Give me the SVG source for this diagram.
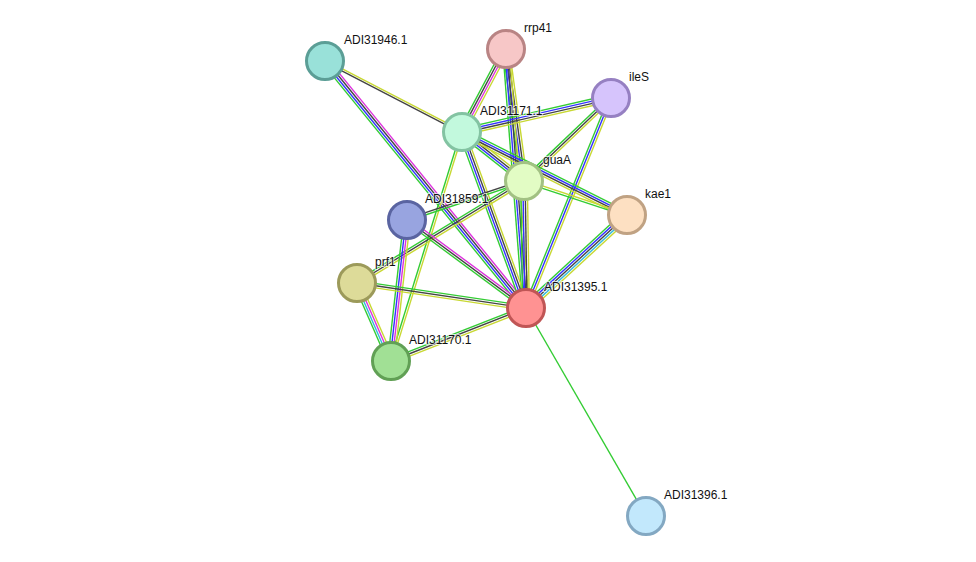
<svg xmlns="http://www.w3.org/2000/svg" width="976" height="562" viewBox="0 0 976 562">
<style>
line{stroke-width:1.4;fill:none}
.g{stroke:#33cc33}.b{stroke:#3333ff}.k{stroke:#444444}.y{stroke:#c8d832}.m{stroke:#dd33dd}.c{stroke:#33bbdd}
.n circle{stroke-width:3}
text{font-family:"Liberation Sans",Arial,sans-serif;font-size:12px;fill:#111;stroke:#fff;stroke-width:2px;stroke-opacity:0.7;paint-order:stroke}
</style>
<rect width="976" height="562" fill="#fff"/>
<g id="edges">
<g transform="translate(325 61) rotate(27.4)"><line x2="154.3" y1="1.1" y2="1.1" class="k"/><line x2="154.3" y1="-1.1" y2="-1.1" class="y"/></g>
<g transform="translate(325 61) rotate(50.86)"><line x2="318.4" y1="3.3" y2="3.3" class="g"/><line x2="318.4" y1="1.1" y2="1.1" class="b"/><line x2="318.4" y1="-1.1" y2="-1.1" class="k"/><line x2="318.4" y1="-3.3" y2="-3.3" class="m"/></g>
<g transform="translate(506 49) rotate(117.93)"><line x2="93.9" y1="3.3" y2="3.3" class="g"/><line x2="93.9" y1="1.1" y2="1.1" class="k"/><line x2="93.9" y1="-1.1" y2="-1.1" class="m"/><line x2="93.9" y1="-3.3" y2="-3.3" class="y"/></g>
<g transform="translate(506 49) rotate(82.24)"><line x2="133.2" y1="3.3" y2="3.3" class="g"/><line x2="133.2" y1="1.1" y2="1.1" class="b"/><line x2="133.2" y1="-1.1" y2="-1.1" class="k"/><line x2="133.2" y1="-3.3" y2="-3.3" class="y"/></g>
<g transform="translate(506 49) rotate(85.58)"><line x2="259.8" y1="3.3" y2="3.3" class="g"/><line x2="259.8" y1="1.1" y2="1.1" class="b"/><line x2="259.8" y1="-1.1" y2="-1.1" class="k"/><line x2="259.8" y1="-3.3" y2="-3.3" class="y"/></g>
<g transform="translate(611 98) rotate(167.15)"><line x2="152.8" y1="3.3" y2="3.3" class="g"/><line x2="152.8" y1="1.1" y2="1.1" class="b"/><line x2="152.8" y1="-1.1" y2="-1.1" class="k"/><line x2="152.8" y1="-3.3" y2="-3.3" class="y"/></g>
<g transform="translate(611 98) rotate(136.35)"><line x2="120.2" y1="2.2" y2="2.2" class="g"/><line x2="120.2" class="k"/><line x2="120.2" y1="-2.2" y2="-2.2" class="y"/></g>
<g transform="translate(611 98) rotate(112.04)"><line x2="226.5" y1="2.2" y2="2.2" class="g"/><line x2="226.5" class="b"/><line x2="226.5" y1="-2.2" y2="-2.2" class="y"/></g>
<g transform="translate(462 132) rotate(38.32)"><line x2="79" y1="3.3" y2="3.3" class="g"/><line x2="79" y1="1.1" y2="1.1" class="b"/><line x2="79" y1="-1.1" y2="-1.1" class="k"/><line x2="79" y1="-3.3" y2="-3.3" class="y"/></g>
<g transform="translate(462 132) rotate(26.70)"><line x2="184.7" y1="-3.3" y2="-3.3" class="g"/><line x2="184.7" y1="-1.1" y2="-1.1" class="b"/><line x2="184.7" y1="1.1" y2="1.1" class="k"/><line x2="184.7" y1="3.3" y2="3.3" class="y"/></g>
<g transform="translate(462 132) rotate(70.02)"><line x2="187.3" y1="3.3" y2="3.3" class="g"/><line x2="187.3" y1="1.1" y2="1.1" class="b"/><line x2="187.3" y1="-1.1" y2="-1.1" class="k"/><line x2="187.3" y1="-3.3" y2="-3.3" class="y"/></g>
<g transform="translate(462 132) rotate(107.23)"><line x2="239.8" y1="1.1" y2="1.1" class="g"/><line x2="239.8" y1="-1.1" y2="-1.1" class="y"/></g>
<g transform="translate(524 181) rotate(18.27)"><line x2="108.5" y1="1.1" y2="1.1" class="g"/><line x2="108.5" y1="-1.1" y2="-1.1" class="y"/></g>
<g transform="translate(524 181) rotate(89.1)"><line x2="127" y1="3.3" y2="3.3" class="g"/><line x2="127" y1="1.1" y2="1.1" class="b"/><line x2="127" y1="-1.1" y2="-1.1" class="k"/><line x2="127" y1="-3.3" y2="-3.3" class="y"/></g>
<g transform="translate(524 181) rotate(161.57)"><line x2="123.3" y1="1.1" y2="1.1" class="k"/><line x2="123.3" y1="-1.1" y2="-1.1" class="g"/></g>
<g transform="translate(524 181) rotate(148.58)"><line x2="195.7" y1="2.2" y2="2.2" class="g"/><line x2="195.7" class="k"/><line x2="195.7" y1="-2.2" y2="-2.2" class="y"/></g>
<g transform="translate(627 215) rotate(137.36)"><line x2="137.3" y1="4.4" y2="4.4" class="g"/><line x2="137.3" y1="2.2" y2="2.2" class="b"/><line x2="137.3" class="k"/><line x2="137.3" y1="-2.2" y2="-2.2" class="c"/><line x2="137.3" y1="-4.4" y2="-4.4" class="y"/></g>
<g transform="translate(407 220) rotate(36.48)"><line x2="148" y1="2.2" y2="2.2" class="g"/><line x2="148" class="k"/><line x2="148" y1="-2.2" y2="-2.2" class="m"/></g>
<g transform="translate(407 220) rotate(96.47)"><line x2="141.9" y1="3.3" y2="3.3" class="g"/><line x2="141.9" y1="1.1" y2="1.1" class="b"/><line x2="141.9" y1="-1.1" y2="-1.1" class="m"/><line x2="141.9" y1="-3.3" y2="-3.3" class="y"/></g>
<g transform="translate(357 283) rotate(8.41)"><line x2="170.8" y1="-2.2" y2="-2.2" class="g"/><line x2="170.8" class="k"/><line x2="170.8" y1="2.2" y2="2.2" class="y"/></g>
<g transform="translate(357 283) rotate(66.45)"><line x2="85.1" y1="3.3" y2="3.3" class="g"/><line x2="85.1" y1="1.1" y2="1.1" class="c"/><line x2="85.1" y1="-1.1" y2="-1.1" class="m"/><line x2="85.1" y1="-3.3" y2="-3.3" class="y"/></g>
<g transform="translate(391 361) rotate(-21.43)"><line x2="145" y1="-2.2" y2="-2.2" class="g"/><line x2="145" class="k"/><line x2="145" y1="2.2" y2="2.2" class="y"/></g>
<g transform="translate(526 308) rotate(60.02)"><line x2="240.1" class="g"/></g>
</g>
<g id="ADI31946.1" class="n"><circle cx="325" cy="61" r="18.5" fill="#99e1d9" stroke="#5b9e96"/><text x="344" y="44">ADI31946.1</text></g>
<g id="rrp41" class="n"><circle cx="506" cy="49" r="18.5" fill="#f7c7c7" stroke="#b98484"/><text x="524" y="32">rrp41</text></g>
<g id="ileS" class="n"><circle cx="611" cy="98" r="18.5" fill="#d6c4fc" stroke="#9680c2"/><text x="629" y="81">ileS</text></g>
<g id="ADI31171.1" class="n"><circle cx="462" cy="132" r="18.5" fill="#c2f9dd" stroke="#83c3a2"/><text x="480" y="115">ADI31171.1</text></g>
<g id="guaA" class="n"><circle cx="524" cy="181" r="18.5" fill="#e2fcc4" stroke="#a2c183"/><text x="543" y="164">guaA</text></g>
<g id="kae1" class="n"><circle cx="627" cy="215" r="18.5" fill="#fde0c2" stroke="#c0a283"/><text x="645" y="198">kae1</text></g>
<g id="ADI31859.1" class="n"><circle cx="407" cy="220" r="18.5" fill="#98a4e0" stroke="#5a64a1"/><text x="425" y="203">ADI31859.1</text></g>
<g id="prf1" class="n"><circle cx="357" cy="283" r="18.5" fill="#dddb99" stroke="#9c9a5a"/><text x="375" y="266">prf1</text></g>
<g id="ADI31395.1" class="n"><circle cx="526" cy="308" r="18.5" fill="#ff9292" stroke="#c05555"/><text x="544" y="291">ADI31395.1</text></g>
<g id="ADI31170.1" class="n"><circle cx="391" cy="361" r="18.5" fill="#a1e095" stroke="#61a055"/><text x="409" y="344">ADI31170.1</text></g>
<g id="ADI31396.1" class="n"><circle cx="646" cy="516" r="18.5" fill="#c2e8fc" stroke="#83a8c2"/><text x="664" y="499">ADI31396.1</text></g>
</svg>
